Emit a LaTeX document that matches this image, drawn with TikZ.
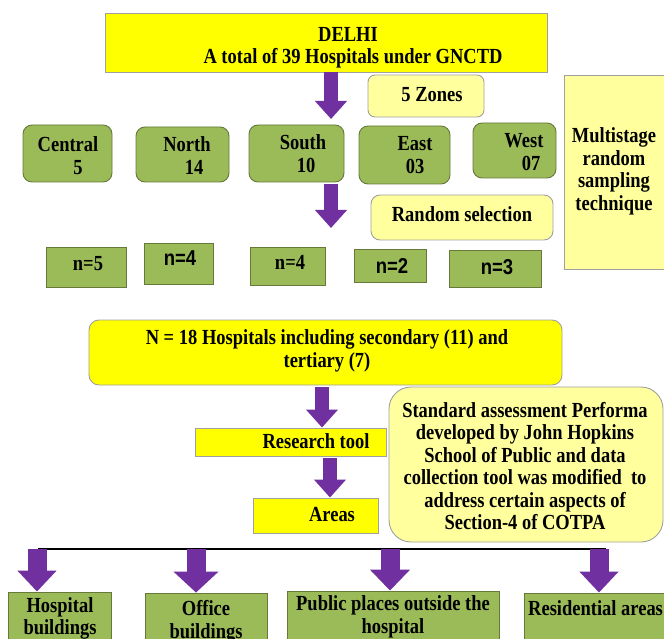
\documentclass[tikz,border=0pt]{standalone}
\usepackage{fontspec}
\setmainfont{Liberation Serif}[FakeStretch=0.86]
\newfontfamily\sansf{Liberation Sans}[FakeStretch=0.86]
\usetikzlibrary{arrows.meta}
\definecolor{yel}{HTML}{FFFF00}
\definecolor{pale}{HTML}{FFFF9E}
\definecolor{grn}{HTML}{9BBB59}
\definecolor{grnline}{HTML}{66793A}
\definecolor{yline}{HTML}{A0A0A0}
\definecolor{purp}{HTML}{7030A0}
\tikzset{
  box/.style={inner sep=0pt, line width=0.9pt},
  yelbox/.style={box, fill=yel, draw=yline},
  palebox/.style={box, fill=pale, draw=yline, rounded corners=#1},
  palebox/.default=8pt,
  grnround/.style={box, fill=grn, draw=grnline, rounded corners=9pt},
  grnbox/.style={box, fill=grn, draw=grnline},
  txt/.style={inner sep=0pt, align=center, font=\bfseries\fontsize{21.5}{22.5}\selectfont},
  stxt/.style={inner sep=0pt, align=center, font=\sansf\bfseries\fontsize{21.5}{22.5}\selectfont},
  parrow/.style={draw=purp, line width=14pt, -{Triangle[width=31pt,length=18pt]}},
  bigarrow/.style={draw=purp, line width=19pt, -{Triangle[width=#1,length=21pt]}},
}
\begin{document}
\begin{tikzpicture}[x=1pt,y=-1pt]
\useasboundingbox (0,0) rectangle (664,639);
\clip (0,0) rectangle (664,639);
\fill[white] (0,0) rectangle (664,639);

% top box
\node[yelbox, minimum width=442pt, minimum height=59pt] (delhi) at (326,42.5) {};
\node[txt] (delhiT) at (326,48) {\hspace*{44pt}DELHI\\\hspace*{54pt}A total of 39 Hospitals under GNCTD};

\node[palebox=7pt, minimum width=116pt, minimum height=42pt] (zones) at (426,96) {};
\node[txt] (zonesT) at (432,95) {5 Zones};

\node[box, fill=pale, draw=yline, minimum width=108pt, minimum height=194pt] (multi) at (618,172) {};
\node[txt] (multiT) at (614,171.5) {Multistage\\random\\sampling\\technique};

% zones
\node[grnround, minimum width=89pt, minimum height=57pt] (central) at (67.5,153.5) {};
\node[txt] (centralT) at (68,155.5) {Central\\\hspace*{20pt}5};
\node[grnround, minimum width=93pt, minimum height=55pt] (north) at (182.5,154.5) {};
\node[txt] (northT) at (187,155.5) {North\\\hspace*{14pt}14};
\node[grnround, minimum width=95pt, minimum height=57pt] (south) at (296.5,153.5) {};
\node[txt] (southT) at (303,153.5) {South\\\hspace*{6pt}10};
\node[grnround, minimum width=91pt, minimum height=58pt] (east) at (404.5,155) {};
\node[txt] (eastT) at (415,155) {East\\03};
\node[grnround, minimum width=83pt, minimum height=55pt] (west) at (514.5,150.5) {};
\node[txt] (westT) at (524,152) {West\\\hspace*{14pt}07};

% arrows top
\coordinate (a1e) at (331,119);
\draw[parrow] (delhi.south -| a1e) -- (a1e);
\coordinate (a2s) at (331,184);
\coordinate (a2e) at (331,228);
\draw[parrow] (a2s) -- (a2e);

\node[palebox=9pt, minimum width=182pt, minimum height=45pt] (rand) at (462,217.5) {};
\node[txt] (randT) at (462,214) {Random selection};

% n boxes
\node[grnbox, minimum width=80pt, minimum height=40pt] (n1) at (86,267) {};
\node[txt] (n1T) at (88,264) {n=5};
\node[grnbox, minimum width=69pt, minimum height=41pt] (n2) at (178.5,263.5) {};
\node[stxt] (n2T) at (180,258) {n=4};
\node[grnbox, minimum width=75pt, minimum height=38pt] (n3) at (287.5,266) {};
\node[txt] (n3T) at (290,262) {n=4};
\node[grnbox, minimum width=72pt, minimum height=33pt] (n4) at (390,265.5) {};
\node[stxt] (n4T) at (392,266) {n=2};
\node[grnbox, minimum width=92pt, minimum height=37pt] (n5) at (495,268.5) {};
\node[stxt] (n5T) at (497,267) {n=3};

% N = 18
\node[yelbox, rounded corners=10pt, minimum width=473pt, minimum height=65pt] (N18) at (325.5,352.5) {};
\node[txt] (N18T) at (327,351) {N = 18 Hospitals including secondary (11) and\\tertiary (7)};

\node[palebox=22pt, minimum width=274pt, minimum height=155pt] (std) at (526,464.5) {};
\node[txt] (stdT) at (525,466) {Standard assessment Performa\\developed by John Hopkins\\School of Public and data\\collection tool was modified\ \ to\\address certain aspects of\\Section-4 of COTPA};

\node[yelbox, minimum width=191pt, minimum height=28pt] (research) at (290.5,442) {};
\node[txt] (researchT) at (316,441) {Research tool};
\draw[parrow] (N18.south -| 322,0) ++(0,2) -- (research.north -| 322,0);

\node[yelbox, minimum width=125pt, minimum height=35pt] (areas) at (315.5,515.5) {};
\node[txt] (areasT) at (332,515) {Areas};
\draw[parrow] (research.south -| 330,0) ++(0,2) -- (areas.north -| 330,0);

% bottom
\coordinate (hl) at (38,549);
\coordinate (hr) at (606,549);
\draw[line width=2.5pt, black] (hl) -- (hr);

\node[grnbox, minimum width=103pt, minimum height=60pt] (hosp) at (59.5,622) {};
\node[txt] (hospT) at (60,618.5) {Hospital\\buildings};
\node[grnbox, minimum width=122pt, minimum height=60pt] (office) at (206,623) {};
\node[txt] (officeT) at (206,622) {Office\\buildings};
\node[grnbox, minimum width=212pt, minimum height=62pt] (public) at (393,622) {};
\node[txt] (publicT) at (393,617) {Public places outside the\\hospital};
\node[grnbox, minimum width=150pt, minimum height=60pt] (resid) at (599,623) {};
\node[txt, anchor=west] (residT) at (528,608) {Residential areas};

\draw[bigarrow=38pt] (hl -| 37,0) -- (hosp.north -| 37,0);
\draw[bigarrow=44pt] (hl -| 196,0) -- (office.north -| 196,0);
\draw[bigarrow=39pt] (hl -| 390,0) -- (public.north -| 390,0);
\draw[bigarrow=38pt] (hl -| 599,0) -- (resid.north -| 599,0);
\end{tikzpicture}
\end{document}
